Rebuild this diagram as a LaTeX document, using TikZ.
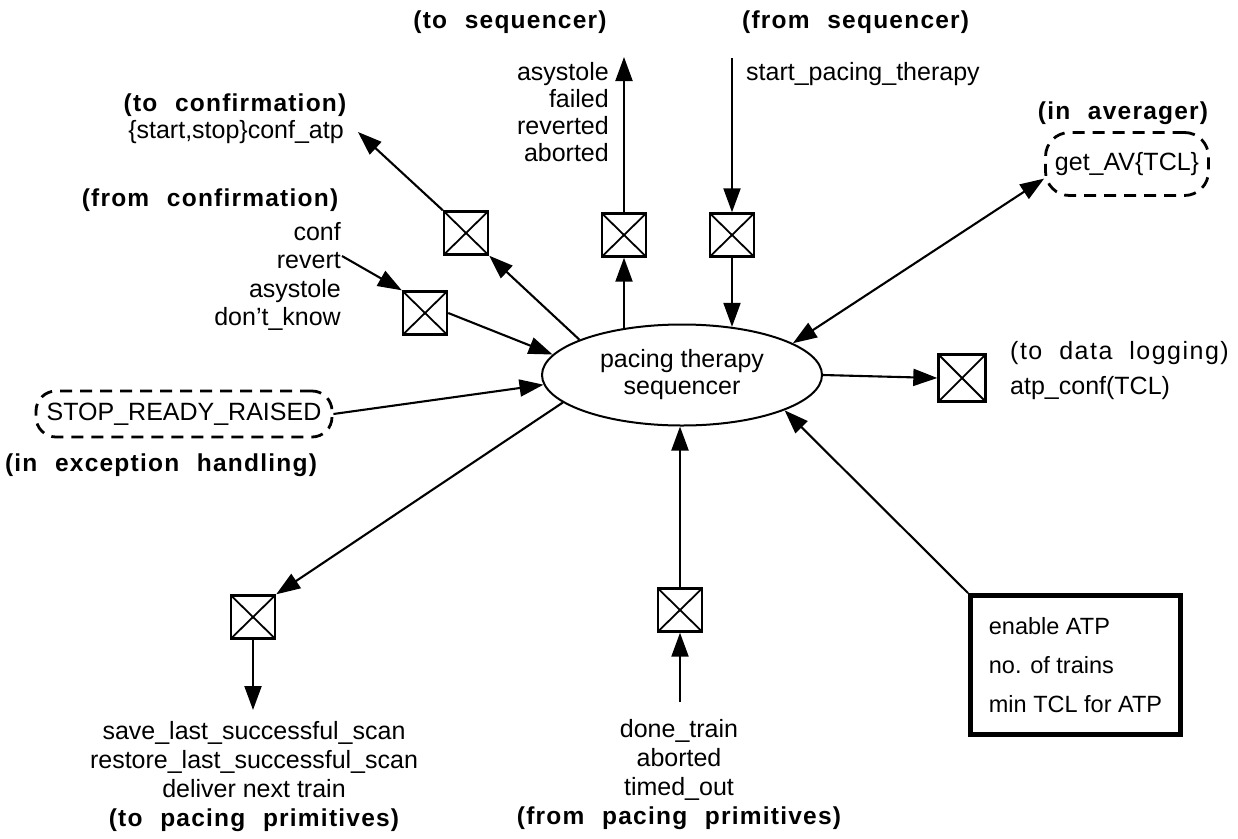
\documentclass[tikz,border=0pt]{standalone}
\usepackage{fontspec}
\setmainfont{Liberation Sans}
\newfontfamily\lblfont{Liberation Sans}[LetterSpace=5, WordSpace=2.2]
\newfontfamily\trackfont{Liberation Sans}[LetterSpace=6, WordSpace=2]
\usetikzlibrary{shapes.geometric,arrows.meta}

\tikzset{
  txt/.style={inner sep=0pt, font=\fontsize{25}{28.5}\selectfont},
  lbl/.style={inner sep=0pt, font=\fontsize{24.5}{28}\selectfont\lblfont\bfseries},
  xbox/.style={draw, line width=2.4pt, minimum width=44pt, minimum height=43pt,
    inner sep=0pt,
    path picture={\draw[line width=1.8pt]
      (path picture bounding box.north west) -- (path picture bounding box.south east)
      (path picture bounding box.north east) -- (path picture bounding box.south west);}},
  tip/.tip={Triangle[length=24pt,width=17pt]},
  conn/.style={line width=2.1pt, -tip},
  dashbox/.style={draw, dash pattern=on 12pt off 8pt, line width=2.8pt,
    inner sep=0pt, font=\fontsize{25}{28.5}\selectfont}
}

\begin{document}
\begin{tikzpicture}[x=1pt, y=-1pt]
\fill[white] (0,0) rectangle (1238,838);
\useasboundingbox (0,0) rectangle (1238,838);

% central process
\node[draw, ellipse, line width=2pt, minimum width=280pt, minimum height=101pt,
  inner sep=0pt, align=center, font=\fontsize{25}{27}\selectfont]
  (ell) at (682,375) {pacing therapy\\sequencer};

% crossed flow boxes
\node[xbox] (bxtoconf)   at (466,233) {};
\node[xbox] (bxtosq)     at (624,235) {};
\node[xbox] (bxfromsq)   at (732,235) {};
\node[xbox] (bxfromconf) at (425,313) {};
\node[xbox, minimum width=47pt, minimum height=47pt] (bxdl) at (962,378) {};
\node[xbox] (bxbl)       at (253,617) {};
\node[xbox] (bxbm)       at (680,610) {};

% to sequencer
\node[lbl] (tosqlbl) at (510,22) {(to sequencer)};
\node[txt, align=right, anchor=north east, font=\fontsize{25}{27}\selectfont]
  (tosqtxt) at (609,62) {asystole\\failed\\reverted\\aborted};

% from sequencer
\node[lbl, anchor=west] (fromsqlbl) at (742,22) {(from sequencer)};
\node[txt, anchor=north west] (fromsqtxt) at (746,62) {start\_pacing\_therapy};

% to confirmation
\node[lbl] (toconflbl) at (235,105) {(to confirmation)};
\node[txt] (toconftxt) at (236,132) {\{start,stop\}conf\_atp};

% from confirmation
\node[lbl] (fromconflbl) at (210,200) {(from confirmation)};
\node[txt, align=right, anchor=north east] (conftxt) at (341,222)
  {conf\\revert\\asystole\\don't\_know};

% exception handling
\node[dashbox, rounded corners=20pt, minimum width=296pt, minimum height=46pt]
  (stop) at (184,414) {STOP\_READY\_RAISED};
\node[lbl] (exclbl) at (161,465) {(in exception handling)};

% averager
\node[lbl] (avglbl) at (1123,113) {(in averager)};
\node[dashbox, rounded corners=24pt, minimum width=163pt, minimum height=63pt]
  (getav) at (1127,164) {get\_AV\{TCL\}};

% data logging
\node[inner sep=0pt, anchor=west, font=\fontsize{25}{28}\selectfont\trackfont]
  (dllbl) at (1010,353) {(to data logging)};
\node[txt, anchor=west] (dltxt) at (1010,388) {atp\_conf(TCL)};

% pacing primitives
\node[txt, align=center, anchor=north, font=\fontsize{25}{29}\selectfont]
  (toprim) at (254,721) {save\_last\_successful\_scan\\restore\_last\_successful\_scan\\deliver next train\\
  {\fontsize{24.5}{29}\selectfont\lblfont\bfseries (to pacing primitives)}};
\node[txt, align=center, anchor=north, font=\fontsize{25}{29}\selectfont]
  (fromprim) at (679,719) {done\_train\\aborted\\timed\_out\\
  {\fontsize{24.5}{29}\selectfont\lblfont\bfseries (from pacing primitives)}};

% parameters
\node[draw, line width=5pt, minimum width=210pt, minimum height=139pt,
  inner sep=0pt, align=left, font=\fontsize{23.5}{39}\selectfont]
  (params) at (1075.5,665) {enable ATP\\no. of trains\\min TCL for ATP};

% free connector ends
\coordinate (tipconf)   at (358,132);
\coordinate (tiptosq)   at (624,57);
\coordinate (srcfromsq) at (732,58);
\coordinate (revertend) at (342,256);
\coordinate (tipbl)     at (253,710);
\coordinate (srcbm)     at (680,702);

% connectors
\draw[conn] (bxtoconf.north west) -- (tipconf);
\draw[conn] (ell.161) -- (bxtoconf.south east);
\draw[conn] (bxtosq.north) -- (tiptosq);
\draw[conn] (bxtosq.south |- ell.140) -- (bxtosq.south);
\draw[conn] (srcfromsq) -- (bxfromsq.north);
\draw[conn] (bxfromsq.south) -- (bxfromsq.south |- ell.44);
\draw[conn] (revertend) -- (bxfromconf.north west);
\draw[conn] (bxfromconf.east) -- (ell.171);
\draw[conn] (stop.east) -- (ell.184);
\draw[conn] (ell.193) -- (bxbl.north east);
\draw[conn] (bxbl.south) -- (tipbl);
\draw[conn] (srcbm) -- (bxbm.south);
\draw[conn] (bxbm.north) -- (bxbm.north |- ell.south);
\draw[conn] (params.north west) -- (ell.341);
\draw[conn] (ell.east) -- (bxdl.west);
\draw[conn, tip-tip] (ell.16) -- (getav.190);
\end{tikzpicture}
\end{document}
